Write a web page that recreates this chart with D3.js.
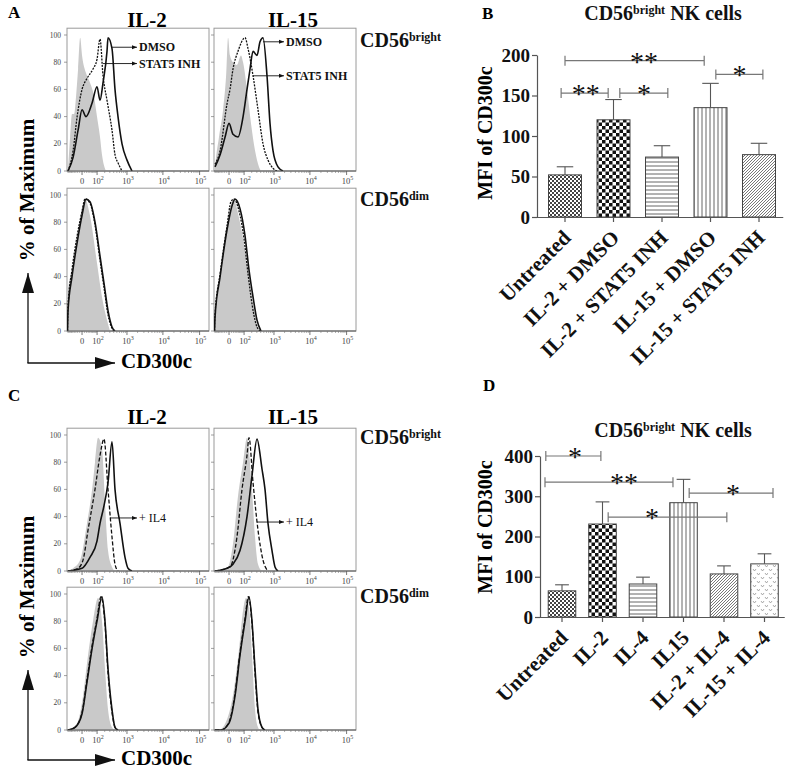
<!DOCTYPE html>
<html><head><meta charset="utf-8">
<script src="https://cdn.jsdelivr.net/npm/d3@7"></script>
<style>
body{margin:0;background:#fff}
svg{display:block}
text{font-family:"Liberation Serif","Times New Roman",serif}
</style>
</head><body>
<script>
// ---------------- DATA ----------------
// Flow histograms: [fluorescence value, % of maximum]
const histCols = ["IL-2", "IL-15"];
const histXTicks = [0, 100, 1000, 10000, 100000];
const histXTickLabels = [["0", ""], ["10", "2"], ["10", "3"], ["10", "4"], ["10", "5"]];
const histYTicks = [0, 20, 40, 60, 80, 100];

// Panel A (DMSO = solid, STAT5 INH = dashed, grey = control)
const A_IL2_bright_iso = [[-92,0],[-90,2],[-71,25],[-56,42],[-41,42],[-29,55],[-18,75],[-8,98],[0,85],[18,72],[41,65],[71,55],[99,40],[133,25],[159,12],[189,4],[223,0]];
const A_IL2_bright_dmso = [[-90,0],[-48,10],[-18,30],[0,45],[18,40],[56,50],[99,62],[133,52],[174,65],[241,88],[261,98],[353,90],[439,60],[543,40],[716,20],[1002,8],[1393,0]];
const A_IL2_bright_stat5 = [[-90,0],[-48,15],[-23,40],[0,60],[23,68],[63,75],[99,82],[133,97],[174,70],[241,52],[353,30],[439,12],[543,6],[716,0]];
const A_IL15_bright_iso = [[-92,0],[-90,2],[-56,25],[-29,45],[-13,70],[-4,98],[4,85],[18,80],[41,78],[71,85],[90,80],[133,60],[189,35],[261,15],[353,3],[409,0]];
const A_IL15_bright_dmso = [[-90,3],[-48,12],[-18,25],[0,35],[18,27],[48,25],[90,40],[133,60],[174,75],[223,88],[304,85],[380,95],[472,98],[624,70],[766,35],[937,15],[1304,3],[1806,0]];
const A_IL15_bright_stat5 = [[-90,5],[-48,15],[-8,50],[4,60],[18,75],[48,88],[110,98],[146,90],[223,70],[328,45],[472,20],[668,8],[937,2],[1222,0]];
const A_IL2_dim_iso = [[-95,0],[-90,30],[-56,45],[-23,70],[0,90],[13,97],[41,85],[99,50],[159,25],[241,8],[304,0]];
const A_IL2_dim_dmso = [[-95,0],[-90,15],[-56,40],[-23,65],[0,85],[18,97],[41,95],[80,80],[133,55],[189,35],[261,15],[353,3],[439,0]];
const A_IL2_dim_stat5 = [[-95,0],[-90,18],[-56,45],[-23,70],[0,88],[13,97],[41,94],[80,78],[133,52],[189,32],[261,12],[353,2],[409,0]];
const A_IL15_dim_iso = [[-95,0],[-90,5],[-48,40],[4,90],[18,97],[63,80],[133,50],[223,20],[328,3],[380,0]];
const A_IL15_dim_dmso = [[-95,0],[-90,10],[-48,40],[-8,75],[13,92],[29,97],[63,90],[110,70],[159,45],[223,25],[304,8],[409,0]];
const A_IL15_dim_stat5 = [[-95,0],[-90,12],[-48,42],[-8,78],[8,95],[23,97],[56,88],[99,68],[146,42],[205,20],[282,5],[380,0]];

// Panel C (cytokine alone = solid, + IL4 = dashed, grey = control)
const C_IL2_bright_iso = [[-90,0],[-48,2],[-8,8],[23,35],[56,60],[80,80],[110,98],[159,90],[205,50],[261,15],[353,3],[439,0]];
const C_IL2_bright_il4 = [[-90,0],[-18,2],[4,8],[29,30],[80,60],[133,85],[189,97],[261,60],[353,25],[439,5],[543,0]];
const C_IL2_bright_alone = [[-90,0],[0,2],[41,10],[99,22],[133,35],[189,48],[261,65],[353,95],[439,60],[624,35],[877,10],[1071,2],[1393,0]];
const C_IL15_bright_iso = [[-90,0],[-8,2],[18,20],[48,55],[90,80],[133,98],[205,60],[261,25],[328,5],[439,0]];
const C_IL15_bright_il4 = [[-90,0],[4,3],[41,25],[80,60],[133,85],[159,98],[223,65],[328,30],[472,8],[668,0]];
const C_IL15_bright_alone = [[-90,0],[-8,2],[18,5],[63,15],[133,40],[205,70],[304,97],[439,75],[543,60],[668,35],[877,15],[1071,3],[1304,0]];
const C_IL2_dim_iso = [[-90,0],[-23,5],[4,25],[29,55],[63,80],[110,97],[159,80],[205,45],[261,15],[353,2],[439,0]];
const C_IL2_dim_il4 = [[-90,0],[-35,2],[0,13],[23,37],[56,62],[99,82],[146,98],[205,78],[261,42],[353,13],[439,2],[543,0]];
const C_IL2_dim_alone = [[-90,0],[-35,2],[0,12],[23,35],[56,60],[99,80],[159,98],[205,80],[261,45],[353,15],[439,2],[543,0]];
const C_IL15_dim_iso = [[-90,0],[-56,0],[-8,8],[23,30],[56,60],[90,88],[121,97],[159,90],[205,55],[261,15],[328,2],[380,0]];
const C_IL15_dim_il4 = [[-90,0],[-41,0],[0,6],[29,27],[63,57],[110,82],[150,98],[205,78],[261,42],[328,13],[439,2],[543,0]];
const C_IL15_dim_alone = [[-90,0],[-41,0],[0,5],[29,25],[63,55],[110,80],[159,98],[205,80],[261,45],[328,15],[439,2],[543,0]];

// Panel B bars
const B_categories = ["Untreated", "IL-2 + DMSO", "IL-2 + STAT5 INH", "IL-15 + DMSO", "IL-15 + STAT5 INH"];
const B_means = [52, 120, 74, 135, 77];
const B_sem = [10, 25, 14, 30, 14];
const B_yTicks = [0, 50, 100, 150, 200];
const B_sig = [
  {from: 0, to: 2.87, level: 193, label: "**", at: 1.63},
  {from: -0.08, to: 0.89, level: 153, label: "**", at: 0.43},
  {from: 1.13, to: 2.12, level: 153, label: "*", at: 1.63},
  {from: 3.11, to: 4.08, level: 176, label: "*", at: 3.6}
];
// Panel D bars
const D_categories = ["Untreated", "IL-2", "IL-4", "IL15", "IL-2 + IL-4", "IL-15 + IL-4"];
const D_means = [65, 231, 82, 284, 107, 132];
const D_sem = [15, 55, 17, 58, 20, 25];
const D_yTicks = [0, 100, 200, 300, 400];
const D_sig = [
  {from: -0.4, to: 0.96, level: 400, label: "*", at: 0.32},
  {from: -0.42, to: 2.74, level: 335, label: "**", at: 1.53},
  {from: 1.14, to: 4.07, level: 248, label: "*", at: 2.22},
  {from: 3.14, to: 5.21, level: 308, label: "*", at: 4.22}
];

// ---------------- DRAW ----------------
const svg = d3.select("body").append("svg").attr("width", 787).attr("height", 771);
const defs = svg.append("defs");

defs.append("marker").attr("id", "arrSmall").attr("viewBox", "0 0 10 10")
  .attr("refX", 10).attr("refY", 5).attr("markerWidth", 5).attr("markerHeight", 5)
  .attr("orient", "auto").attr("markerUnits", "userSpaceOnUse")
  .append("path").attr("d", "M0,1 L10,5 L0,9 z").attr("fill", "#111");
defs.append("marker").attr("id", "arrBig").attr("viewBox", "0 0 20 12")
  .attr("refX", 20).attr("refY", 6).attr("markerWidth", 20).attr("markerHeight", 12)
  .attr("orient", "auto").attr("markerUnits", "userSpaceOnUse")
  .append("path").attr("d", "M0,0 L20,6 L0,12 z").attr("fill", "#111");

function pat(id, w, h, draw) {
  const p = defs.append("pattern").attr("id", id).attr("patternUnits", "userSpaceOnUse")
    .attr("width", w).attr("height", h);
  p.append("rect").attr("width", w).attr("height", h).attr("fill", "#fff");
  draw(p);
}
pat("fineCheck", 4, 4, p => {
  p.append("rect").attr("x", 0).attr("y", 0).attr("width", 2).attr("height", 2).attr("fill", "#444");
  p.append("rect").attr("x", 2).attr("y", 2).attr("width", 2).attr("height", 2).attr("fill", "#444");
});
pat("check", 7, 7, p => {
  p.append("rect").attr("x", 0).attr("y", 0).attr("width", 3.5).attr("height", 3.5).attr("fill", "#111");
  p.append("rect").attr("x", 3.5).attr("y", 3.5).attr("width", 3.5).attr("height", 3.5).attr("fill", "#111");
});
pat("hlines", 4, 4, p => {
  p.append("line").attr("x1", 0).attr("x2", 4).attr("y1", 2).attr("y2", 2).attr("stroke", "#666").attr("stroke-width", 1);
});
pat("vlines", 4, 4, p => {
  p.append("line").attr("y1", 0).attr("y2", 4).attr("x1", 2).attr("x2", 2).attr("stroke", "#666").attr("stroke-width", 1);
});
pat("diag", 3, 3, p => {
  p.append("path").attr("d", "M0,3 L3,0 M-1,1 L1,-1 M2,4 L4,2").attr("stroke", "#555").attr("stroke-width", 0.8);
});
pat("vees", 8, 8, p => {
  p.append("path").attr("d", "M1,1 L2.5,3 L4,1 M5,5 L6.5,7 L8,5").attr("stroke", "#888").attr("stroke-width", 0.7).attr("fill", "none");
});
const B_patterns = ["fineCheck", "check", "hlines", "vlines", "diag"];
const D_patterns = ["fineCheck", "check", "hlines", "vlines", "diag", "vees"];

function supText(parent, x, y, base, sup, size, supSize, anchor, rest) {
  const t = parent.append("text").attr("x", x).attr("y", y)
    .attr("font-size", size).attr("font-weight", "bold").attr("text-anchor", anchor || "start").attr("fill", "#111");
  t.append("tspan").text(base);
  t.append("tspan").attr("font-size", supSize).attr("dy", -size * 0.3).text(sup);
  if (rest) t.append("tspan").attr("dy", size * 0.3).text(rest);
  return t;
}

// ---------- Histogram panels ----------
const boxW = 142, yMaxPct = 105, boxH = 142.8;
const colX = [67, 214];

function histPanel(x0, yBottom, showYLabels, iso, solid, dashed, dashArr, notes) {
  const x = d3.scaleSymlog().constant(64).domain([-100, 180000]).range([x0, x0 + boxW]);
  const y = d3.scaleLinear().domain([0, yMaxPct]).range([yBottom, yBottom - boxH]);
  const g = svg.append("g");
  const clipId = "clip" + Math.round(x0) + "_" + Math.round(yBottom);
  defs.append("clipPath").attr("id", clipId).append("rect")
    .attr("x", x0).attr("y", y(yMaxPct)).attr("width", boxW).attr("height", boxH);

  g.append("rect").attr("x", x0).attr("y", y(yMaxPct)).attr("width", boxW).attr("height", boxH)
    .attr("fill", "#fff").attr("stroke", "#9a9a9a").attr("stroke-width", 1);

  const plot = g.append("g").attr("clip-path", `url(#${clipId})`);
  const area = d3.area().x(d => x(d[0])).y0(y(0)).y1(d => y(d[1])).curve(d3.curveMonotoneX);
  const line = d3.line().x(d => x(d[0])).y(d => y(d[1])).curve(d3.curveMonotoneX);
  plot.append("path").attr("d", area(iso)).attr("fill", "#c9c9c9");
  plot.append("path").attr("d", line(dashed)).attr("fill", "none").attr("stroke", "#111")
    .attr("stroke-width", 1.3).attr("stroke-dasharray", dashArr);
  plot.append("path").attr("d", line(solid)).attr("fill", "none").attr("stroke", "#111").attr("stroke-width", 1.6);

  g.append("line").attr("x1", x0).attr("x2", x0 + boxW).attr("y1", yBottom).attr("y2", yBottom)
    .attr("stroke", "#555").attr("stroke-width", 1);
  const minor = [];
  [-1, 1].forEach(s => { for (let k = 1; k < 10; k++) minor.push(s * k * 10); });
  [100, 1000, 10000].forEach(dec => { for (let k = 2; k < 10; k++) minor.push(k * dec); });
  g.selectAll(null).data(minor).join("line")
    .attr("x1", d => x(d)).attr("x2", d => x(d)).attr("y1", yBottom).attr("y2", yBottom + 2)
    .attr("stroke", "#777").attr("stroke-width", 0.6);
  g.selectAll(null).data(histXTicks).join("line")
    .attr("x1", d => x(d)).attr("x2", d => x(d)).attr("y1", yBottom).attr("y2", yBottom + 4)
    .attr("stroke", "#555").attr("stroke-width", 0.8);
  histXTicks.forEach((v, i) => {
    const t = g.append("text").attr("x", x(v) + (i === 0 ? 0 : 1)).attr("y", yBottom + 13)
      .attr("font-size", 8.5).attr("fill", "#444").attr("text-anchor", "middle");
    t.append("tspan").text(histXTickLabels[i][0]);
    if (histXTickLabels[i][1]) t.append("tspan").attr("font-size", 6).attr("dy", -4).text(histXTickLabels[i][1]);
  });
  g.selectAll(null).data(histYTicks).join("line")
    .attr("x1", x0 - 3).attr("x2", x0).attr("y1", d => y(d)).attr("y2", d => y(d))
    .attr("stroke", "#777").attr("stroke-width", 0.7);
  if (showYLabels) {
    g.selectAll(null).data(histYTicks).join("text")
      .attr("x", x0 - 6).attr("y", d => y(d) + 2.5).attr("text-anchor", "end")
      .attr("font-size", 7.5).attr("fill", "#444").text(d => d);
  }
  (notes || []).forEach(n => {
    const xs = x(n[0]), ys = y(n[1]);
    const xe = x0 + 70;
    g.append("line").attr("x1", xs).attr("x2", xe).attr("y1", ys).attr("y2", ys)
      .attr("stroke", "#111").attr("stroke-width", 0.9).attr("marker-end", "url(#arrSmall)");
    g.append("text").attr("x", xe + 2).attr("y", ys + 4).attr("font-size", n[3] || 12)
      .attr("font-weight", n[4] || "bold").attr("fill", "#111").text(n[2]);
  });
}

histPanel(colX[0], 171, true, A_IL2_bright_iso, A_IL2_bright_dmso, A_IL2_bright_stat5, "2,1.2",
  [[353, 91, "DMSO"], [174, 79, "STAT5 INH"]]);
histPanel(colX[1], 171, false, A_IL15_bright_iso, A_IL15_bright_dmso, A_IL15_bright_stat5, "2,1.2",
  [[472, 95, "DMSO"], [223, 70, "STAT5 INH"]]);
histPanel(colX[0], 331, true, A_IL2_dim_iso, A_IL2_dim_dmso, A_IL2_dim_stat5, "2,1.2", []);
histPanel(colX[1], 331, false, A_IL15_dim_iso, A_IL15_dim_dmso, A_IL15_dim_stat5, "2,1.2", []);
histPanel(colX[0], 571, true, C_IL2_bright_iso, C_IL2_bright_alone, C_IL2_bright_il4, "4,2",
  [[304, 39, "+ IL4", 12, "normal"]]);
histPanel(colX[1], 571, false, C_IL15_bright_iso, C_IL15_bright_alone, C_IL15_bright_il4, "4,2",
  [[304, 36, "+ IL4", 12, "normal"]]);
histPanel(colX[0], 730, true, C_IL2_dim_iso, C_IL2_dim_alone, C_IL2_dim_il4, "4,2", []);
histPanel(colX[1], 730, false, C_IL15_dim_iso, C_IL15_dim_alone, C_IL15_dim_il4, "4,2", []);

function histLabels(dy, letter, letterY) {
  svg.append("text").attr("x", 8).attr("y", letterY).attr("font-size", 17).attr("font-weight", "bold").text(letter);
  svg.append("text").attr("x", 147).attr("y", 27 + dy).attr("font-size", 21).attr("font-weight", "bold")
    .attr("text-anchor", "middle").text(histCols[0]);
  svg.append("text").attr("x", 293).attr("y", 27 + dy).attr("font-size", 21).attr("font-weight", "bold")
    .attr("text-anchor", "middle").text(histCols[1]);
  supText(svg, 360, 47 + dy, "CD56", "bright", 20, 12);
  supText(svg, 360, 206 + dy, "CD56", "dim", 20, 12);
  svg.append("text").attr("transform", `translate(34,${190 + dy}) rotate(-90)`)
    .attr("font-size", 21).attr("font-weight", "bold").attr("text-anchor", "middle").text("% of Maximum");
  svg.append("line").attr("x1", 28).attr("x2", 28).attr("y1", 363 + dy).attr("y2", 273 + dy)
    .attr("stroke", "#111").attr("stroke-width", 1.3).attr("marker-end", "url(#arrBig)");
  svg.append("line").attr("x1", 27.4).attr("x2", 115).attr("y1", 363 + dy).attr("y2", 363 + dy)
    .attr("stroke", "#111").attr("stroke-width", 1.3).attr("marker-end", "url(#arrBig)");
  svg.append("text").attr("x", 121).attr("y", 368 + dy).attr("font-size", 21).attr("font-weight", "bold").text("CD300c");
}
histLabels(0, "A", 18);
histLabels(397, "C", 401);

// ---------- Bar panels ----------
function barPanel(o) {
  const x = d3.scaleBand().domain(o.cats).range([o.x0, o.x1]).paddingInner(0.32).paddingOuter(0.16);
  const y = d3.scaleLinear().domain([0, o.yMax]).range([o.yBottom, o.yTop]);
  const g = svg.append("g");
  const bw = x.bandwidth(), step = x.step();
  const cx = i => x(o.cats[0]) + bw / 2 + i * step;

  g.selectAll(null).data(o.means).join("rect")
    .attr("x", (d, i) => x(o.cats[i])).attr("width", bw)
    .attr("y", d => y(d)).attr("height", d => y(0) - y(d))
    .attr("fill", (d, i) => `url(#${o.pats[i]})`).attr("stroke", "#444").attr("stroke-width", 1);
  o.means.forEach((m, i) => {
    const c = x(o.cats[i]) + bw / 2;
    g.append("line").attr("x1", c).attr("x2", c).attr("y1", y(m)).attr("y2", y(m + o.sem[i]))
      .attr("stroke", "#555").attr("stroke-width", 1.1);
    g.append("line").attr("x1", c - bw / 4).attr("x2", c + bw / 4).attr("y1", y(m + o.sem[i])).attr("y2", y(m + o.sem[i]))
      .attr("stroke", "#555").attr("stroke-width", 1.1);
  });
  const ya = g.append("g").attr("transform", `translate(${o.axisX},0)`)
    .call(d3.axisLeft(y).tickValues(o.yTicks).tickSize(5).tickSizeOuter(0).tickPadding(2));
  ya.select(".domain").attr("stroke", "#555").attr("stroke-width", 1.2);
  ya.selectAll(".tick line").attr("stroke", "#555").attr("stroke-width", 1.2);
  ya.selectAll(".tick text").attr("font-family", "Liberation Serif").attr("font-size", 19)
    .attr("font-weight", "bold").attr("fill", "#111");
  const xa = g.append("g").attr("transform", `translate(0,${o.yBottom})`)
    .call(d3.axisBottom(x).tickSize(5).tickSizeOuter(0));
  xa.select(".domain").attr("stroke", "#555").attr("stroke-width", 1.2).attr("d", `M${o.axisX},0.5H${o.x1}`);
  xa.selectAll(".tick line").attr("stroke", "#555").attr("stroke-width", 1.2);
  xa.selectAll(".tick text").attr("font-family", "Liberation Serif").attr("font-size", 21)
    .attr("font-weight", "bold").attr("fill", "#111").attr("y", 0).attr("dy", 0)
    .attr("text-anchor", "end").attr("transform", "translate(7,22) rotate(-45)");
  o.sig.forEach(s => {
    const xa1 = cx(s.from), xa2 = cx(s.to), yy = y(s.level);
    g.append("path").attr("d", `M${xa1},${yy - 5}V${yy + 5}M${xa1},${yy}H${xa2}M${xa2},${yy - 5}V${yy + 5}`)
      .attr("fill", "none").attr("stroke", "#777").attr("stroke-width", 1.2);
    const offs = s.label === "**" ? [-7, 7] : [0];
    offs.forEach(dx => {
      g.append("text").attr("x", cx(s.at) + dx).attr("y", yy + 10).attr("text-anchor", "middle")
        .attr("font-family", "Liberation Sans").attr("font-size", 28).attr("fill", "#111").text("*");
    });
  });
  svg.append("text").attr("x", o.letterX).attr("y", o.letterY).attr("font-size", 17).attr("font-weight", "bold").text(o.letter);
  supText(svg, o.titleX, o.titleY, "CD56", "bright", 20, 12, "middle", " NK cells");
  svg.append("text").attr("transform", `translate(492,${o.ylabY}) rotate(-90)`)
    .attr("font-size", 20).attr("font-weight", "bold").attr("text-anchor", "middle").text("MFI of CD300c");
}

barPanel({cats: B_categories, means: B_means, sem: B_sem, pats: B_patterns, yTicks: B_yTicks, yMax: 200,
  x0: 540.75, x1: 783.25, yBottom: 217, yTop: 55, axisX: 537, sig: B_sig,
  letter: "B", letterX: 482, letterY: 19, titleX: 663, titleY: 20, ylabY: 133});
barPanel({cats: D_categories, means: D_means, sem: D_sem, pats: D_patterns, yTicks: D_yTicks, yMax: 400,
  x0: 541.75, x1: 784.75, yBottom: 617, yTop: 456, axisX: 540, sig: D_sig,
  letter: "D", letterX: 483, letterY: 391, titleX: 673, titleY: 437, ylabY: 527});
</script>
</body></html>
